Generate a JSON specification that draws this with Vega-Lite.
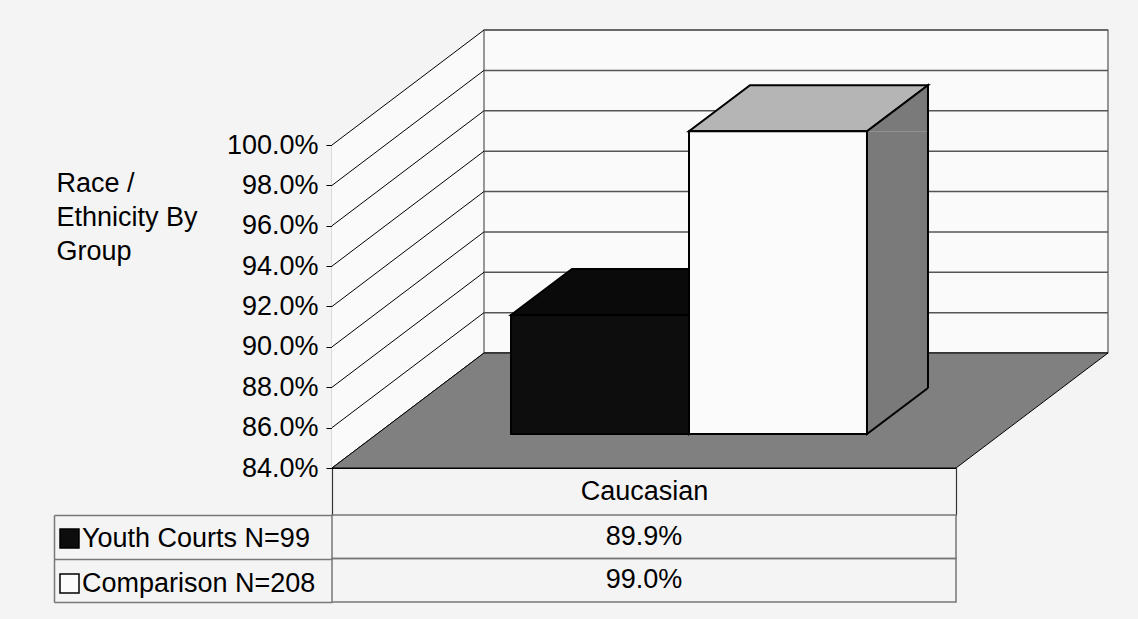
{
  "$schema": "https://vega.github.io/schema/vega-lite/v6.json",
  "background": "#f4f4f4",
  "padding": {"left": 53, "top": 27, "right": 30, "bottom": 20},
  "config": {
    "font": "Liberation Sans",
    "view": {"stroke": null},
    "axis": {"labelFont": "Liberation Sans", "titleFont": "Liberation Sans"}
  },
  "datasets": {
    "bars": [
      {"category": "Caucasian", "group": "Youth Courts N=99", "value": 0.899},
      {"category": "Caucasian", "group": "Comparison N=208", "value": 0.99}
    ],
    "ticks": [
      {"v": 0.84}, {"v": 0.86}, {"v": 0.88}, {"v": 0.9}, {"v": 0.92},
      {"v": 0.94}, {"v": 0.96}, {"v": 0.98}, {"v": 1.0}
    ],
    "cat": [{"category": "Caucasian"}]
  },
  "spacing": 47,
  "bounds": "flush",
  "vconcat": [
    {
      "width": 624,
      "height": 323,
      "resolve": {"scale": {"x": "independent"}},
      "layer": [
        {
          "data": {"name": "cat"},
          "mark": {"type": "point", "shape": "M-3.12,0L-3.12,-3.23L-1.6,-4.38L-1.6,-1.15Z", "size": 40000, "filled": true, "fill": "#fafafa", "strokeWidth": 0, "opacity": 1, "clip": false},
          "encoding": {
            "x": {"field": "category", "type": "nominal", "scale": {"type": "band", "paddingInner": 0, "paddingOuter": 0}, "axis": null},
            "y": {
              "datum": 0.84, "type": "quantitative",
              "scale": {"domain": [0.84, 1.0], "nice": false, "zero": false},
              "axis": {
                "format": ".1%", "values": [0.84, 0.86, 0.88, 0.9, 0.92, 0.94, 0.96, 0.98, 1.0],
                "tickSize": 6, "labelPadding": 8, "labelFontSize": 27, "labelColor": "black",
                "domainColor": "black", "domainWidth": 1.2, "tickColor": "black", "grid": false,
                "title": ["Race /", "Ethnicity By", "Group"], "titleAngle": 0, "titleAlign": "left",
                "titleBaseline": "middle", "titleX": -276, "titleY": 38, "titleFontSize": 27,
                "titleFontWeight": "normal", "titleLineHeight": 34, "titleColor": "black"
              }
            }
          }
        },
        {
          "data": {"name": "cat"},
          "mark": {"type": "rect", "fill": "#fafafa", "stroke": "#555", "strokeWidth": 1.2, "xOffset": 152, "x2Offset": 152, "yOffset": -115, "y2Offset": -115, "clip": false},
          "encoding": {
            "x": {"field": "category", "type": "nominal", "scale": {"paddingInner": 0, "paddingOuter": 0}, "axis": null},
            "y": {"datum": 1.0, "type": "quantitative"},
            "y2": {"datum": 0.84}
          }
        },
        {
          "data": {"name": "ticks"},
          "mark": {"type": "point", "shape": "M-1.6,-1.15L4.64,-1.15", "size": 40000, "filled": false, "stroke": "#555", "strokeWidth": 1.5, "opacity": 1, "clip": false},
          "encoding": {
            "x": {"datum": "Caucasian", "type": "nominal", "axis": null},
            "y": {"field": "v", "type": "quantitative"}
          }
        },
        {
          "data": {"name": "ticks"},
          "mark": {"type": "point", "shape": "M-3.12,0L-1.6,-1.15", "size": 40000, "filled": false, "stroke": "black", "strokeWidth": 1, "opacity": 1, "clip": false},
          "encoding": {
            "x": {"datum": "Caucasian", "type": "nominal", "axis": null},
            "y": {"field": "v", "type": "quantitative"}
          }
        },
        {
          "data": {"name": "cat"},
          "mark": {"type": "point", "shape": "M-3.12,0L3.12,0L4.64,-1.15L-1.6,-1.15Z", "size": 40000, "filled": true, "fill": "#808080", "stroke": "black", "strokeWidth": 1, "opacity": 1, "clip": false},
          "encoding": {
            "x": {
              "field": "category", "type": "nominal",
              "scale": {"type": "band", "paddingInner": 0, "paddingOuter": 0},
              "axis": {
                "orient": "bottom", "title": null, "domain": true, "domainColor": "black", "domainWidth": 1.2,
                "tickBand": "extent", "tickSize": 47, "tickColor": "#333", "tickWidth": 1.2,
                "labelFontSize": 27, "labelColor": "black", "labelPadding": -24, "labelBaseline": "middle", "labelAngle": 0
              }
            },
            "y": {"datum": 0.84, "type": "quantitative"}
          }
        },
        {
          "data": {"name": "bars"},
          "mark": {"type": "point", "shape": "M-0.89,0L0.89,0L1.5,-0.46L-0.28,-0.46Z", "size": 40000, "filled": true, "stroke": "black", "strokeWidth": 2, "opacity": 1, "xOffset": 45, "yOffset": -34, "clip": false},
          "encoding": {
            "x": {"field": "group", "type": "nominal", "scale": {"type": "band", "domain": ["Youth Courts N=99", "Comparison N=208"], "paddingInner": 0, "paddingOuter": 0.753}, "axis": null},
            "y": {"field": "value", "type": "quantitative"},
            "fill": {"condition": {"test": "datum.group === 'Youth Courts N=99'", "value": "#0a0a0a"}, "value": "#b5b5b5"}
          }
        },
        {
          "data": {"name": "bars"},
          "mark": {"type": "rule", "stroke": "#7a7a7a", "strokeWidth": 61, "strokeCap": "butt", "xOffset": 164.5, "yOffset": -34, "y2Offset": -80, "clip": false},
          "encoding": {
            "x": {"field": "group", "type": "nominal", "scale": {"type": "band", "domain": ["Youth Courts N=99", "Comparison N=208"], "paddingInner": 0, "paddingOuter": 0.753}, "axis": null},
            "y": {"field": "value", "type": "quantitative"},
            "y2": {"datum": 0.84}
          }
        },
        {
          "data": {"name": "bars"},
          "mark": {"type": "point", "shape": "M1.5,0L1.5,-0.46L0.89,0", "size": 40000, "filled": true, "fill": "#7a7a7a", "stroke": "black", "strokeWidth": 2, "opacity": 1, "xOffset": 45, "yOffset": -34, "clip": false},
          "encoding": {
            "x": {"field": "group", "type": "nominal", "scale": {"type": "band", "domain": ["Youth Courts N=99", "Comparison N=208"], "paddingInner": 0, "paddingOuter": 0.753}, "axis": null},
            "y": {"field": "value", "type": "quantitative"}
          }
        },
        {
          "data": {"name": "bars"},
          "mark": {"type": "point", "shape": "M0.89,-0.46L0.89,0L1.5,-0.46", "size": 40000, "filled": true, "fill": "#7a7a7a", "stroke": "black", "strokeWidth": 2, "opacity": 1, "xOffset": 45, "yOffset": -34, "clip": false},
          "encoding": {
            "x": {"field": "group", "type": "nominal", "scale": {"type": "band", "domain": ["Youth Courts N=99", "Comparison N=208"], "paddingInner": 0, "paddingOuter": 0.753}, "axis": null},
            "y": {"datum": 0.84, "type": "quantitative"}
          }
        },
        {
          "data": {"name": "bars"},
          "mark": {"type": "rule", "stroke": "black", "strokeWidth": 2, "xOffset": 195, "yOffset": -80, "y2Offset": -80, "clip": false},
          "encoding": {
            "x": {"field": "group", "type": "nominal", "scale": {"type": "band", "domain": ["Youth Courts N=99", "Comparison N=208"], "paddingInner": 0, "paddingOuter": 0.753}, "axis": null},
            "y": {"field": "value", "type": "quantitative"},
            "y2": {"datum": 0.84}
          }
        },
        {
          "data": {"name": "bars"},
          "mark": {"type": "rect", "stroke": "black", "strokeWidth": 2, "opacity": 1, "xOffset": 45, "x2Offset": 45, "yOffset": -34, "y2Offset": -34, "clip": false},
          "encoding": {
            "x": {"field": "group", "type": "nominal", "scale": {"type": "band", "domain": ["Youth Courts N=99", "Comparison N=208"], "paddingInner": 0, "paddingOuter": 0.753}, "axis": null},
            "y": {"field": "value", "type": "quantitative"},
            "y2": {"datum": 0.84},
            "color": {
              "field": "group", "type": "nominal",
              "scale": {"domain": ["Youth Courts N=99", "Comparison N=208"], "range": ["#0d0d0d", "#fbfbfb"]},
              "legend": {
                "orient": "none", "legendX": -276, "legendY": 380, "title": null, "direction": "vertical",
                "symbolType": "square", "symbolSize": 361, "symbolStrokeColor": "black", "symbolStrokeWidth": 1.5,
                "symbolOpacity": 1, "labelFontSize": 27, "labelFont": "Liberation Sans", "labelColor": "black",
                "labelLimit": 400, "labelOffset": -1, "rowPadding": 17, "padding": 0
              }
            }
          }
        }
      ]
    },
    {
      "width": 624,
      "height": 87,
      "data": {"name": "bars"},
      "layer": [
        {
          "mark": {"type": "rect", "fill": "transparent", "stroke": "#777", "strokeWidth": 1.5},
          "encoding": {
            "y": {
              "field": "group", "type": "nominal", "sort": ["Youth Courts N=99", "Comparison N=208"],
              "scale": {"paddingInner": 0, "paddingOuter": 0},
              "axis": {
                "orient": "left", "offset": 278, "tickBand": "extent", "tickSize": -278, "tickColor": "#777",
                "tickWidth": 1.5, "domainColor": "#777", "domainWidth": 1.5, "labels": false, "title": null, "grid": false
              }
            }
          }
        },
        {
          "mark": {"type": "text", "fontSize": 27, "color": "black", "font": "Liberation Sans"},
          "encoding": {
            "y": {"field": "group", "type": "nominal", "sort": ["Youth Courts N=99", "Comparison N=208"]},
            "text": {"field": "value", "type": "quantitative", "format": ".1%"}
          }
        }
      ]
    }
  ]
}
